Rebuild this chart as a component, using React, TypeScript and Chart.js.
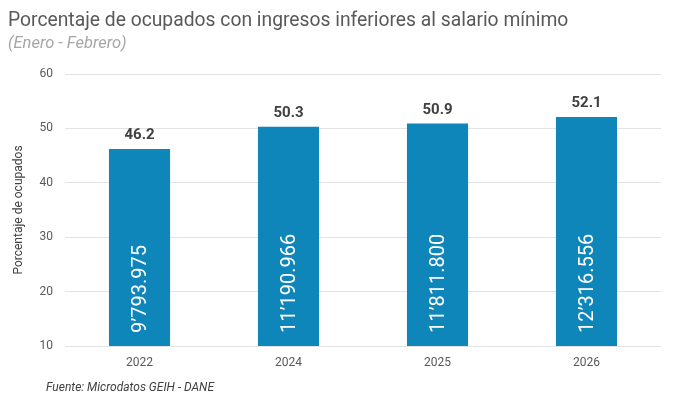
import React, { useEffect, useRef } from "react";
import { Chart, registerables } from "chart.js";

Chart.register(...registerables);

const years = ["2022", "2024", "2025", "2026"];
const percentages = [46.2, 50.3, 50.9, 52.1];
const employed = [9793975, 11190966, 11811800, 12316556];
const yTicks = [10, 20, 30, 40, 50, 60];

const TITLE = "Porcentaje de ocupados con ingresos inferiores al salario mínimo";
const SUBTITLE = "(Enero - Febrero)";
const Y_TITLE = "Porcentaje de ocupados";
const FOOTER = "Fuente: Microdatos GEIH - DANE";

const BAR_COLOR = "#0f86b9";

function formatCount(n: number): string {
  const millions = Math.floor(n / 1000000);
  const thousands = Math.floor((n % 1000000) / 1000);
  const units = n % 1000;
  const pad = (v: number) => String(v).padStart(3, "0");
  return `${millions}\u2019${pad(thousands)}.${pad(units)}`;
}

const labelsPlugin = {
  id: "customLabels",
  afterDatasetsDraw(chart: any) {
    const ctx = chart.ctx;
    const area = chart.chartArea;
    const meta = chart.getDatasetMeta(0);
    ctx.save();
    meta.data.forEach((bar: any, i: number) => {
      ctx.fillStyle = "#404040";
      ctx.font = "bold 15px Roboto";
      ctx.textAlign = "center";
      ctx.textBaseline = "alphabetic";
      ctx.fillText(percentages[i].toFixed(1), bar.x, bar.y - 10);
      const base = Math.min(bar.base, area.bottom);
      ctx.save();
      ctx.translate(bar.x, base - 13);
      ctx.rotate(-Math.PI / 2);
      ctx.fillStyle = "#ffffff";
      ctx.font = "20px Roboto";
      ctx.textAlign = "left";
      ctx.textBaseline = "middle";
      ctx.fillText(formatCount(employed[i]), 0, 1);
      ctx.restore();
    });
    ctx.restore();
  },
  afterDraw(chart: any) {
    const ctx = chart.ctx;
    const area = chart.chartArea;
    ctx.save();
    ctx.textAlign = "left";
    ctx.textBaseline = "alphabetic";
    ctx.fillStyle = "#595959";
    ctx.font = "19.3px Roboto";
    ctx.fillText(TITLE, 8, 26);
    ctx.fillStyle = "#a6a6a6";
    ctx.font = "italic 16.5px Roboto";
    ctx.fillText(SUBTITLE, 8, 48);
    ctx.fillStyle = "#404040";
    ctx.font = "italic 12px Roboto";
    ctx.fillText(FOOTER, 46, 391);
    ctx.save();
    ctx.translate(19, (area.top + area.bottom) / 2);
    ctx.rotate(-Math.PI / 2);
    ctx.textAlign = "center";
    ctx.textBaseline = "middle";
    ctx.fillStyle = "#404040";
    ctx.font = "12px Roboto";
    ctx.fillText(Y_TITLE, 0, 0);
    ctx.restore();
    ctx.restore();
  },
};

export default function App() {
  const canvasRef = useRef<HTMLCanvasElement | null>(null);

  useEffect(() => {
    document.body.style.margin = "0";
    const canvas = canvasRef.current;
    if (!canvas) return;
    const chart = new Chart(canvas, {
      type: "bar",
      data: {
        labels: years,
        datasets: [
          {
            data: percentages,
            backgroundColor: BAR_COLOR,
            borderWidth: 0,
            categoryPercentage: 1,
            barPercentage: 0.41,
          },
        ],
      },
      options: {
        animation: false,
        responsive: false,
        maintainAspectRatio: false,
        devicePixelRatio: 1,
        layout: { padding: { top: 74, right: 19, left: 0, bottom: 0 } },
        plugins: {
          legend: { display: false },
          tooltip: { enabled: false },
          title: { display: false },
        },
        scales: {
          x: {
            grid: { display: false },
            border: { display: false },
            ticks: {
              color: "#595959",
              font: { family: "Roboto", size: 12 },
              padding: 2,
            },
            afterFit(scale: any) {
              scale.height = 56;
            },
          },
          y: {
            min: 10,
            max: 60,
            afterBuildTicks(scale: any) {
              scale.ticks = yTicks.map((v) => ({ value: v }));
            },
            grid: {
              color: "#e3e3e3",
              lineWidth: 1,
              drawTicks: false,
            },
            border: { display: false },
            ticks: {
              color: "#595959",
              font: { family: "Roboto", size: 12 },
              padding: 12,
            },
            afterFit(scale: any) {
              scale.width = 65;
            },
          },
        },
      },
      plugins: [labelsPlugin],
    });
    return () => chart.destroy();
  }, []);

  return (
    <div style={{ width: 680, height: 402, position: "relative", background: "#ffffff" }}>
      <canvas ref={canvasRef} width={680} height={402} style={{ width: 680, height: 402 }} />
    </div>
  );
}
